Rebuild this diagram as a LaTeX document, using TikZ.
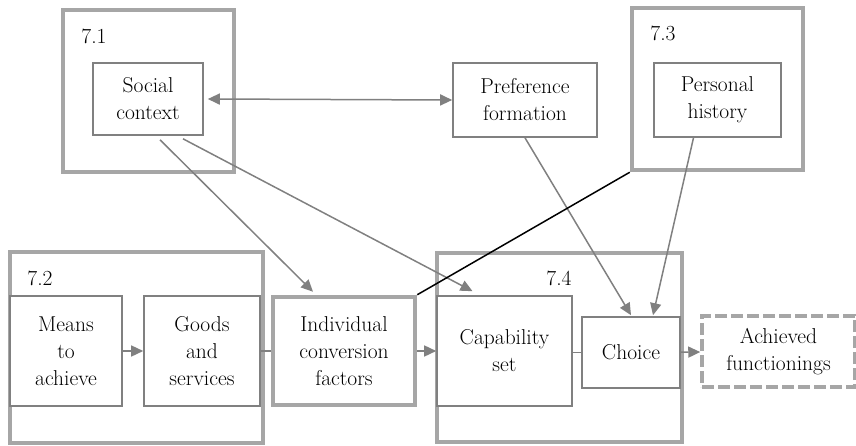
\documentclass[tikz,border=0pt]{standalone}
\usepackage{fontspec}
\usepackage{tikz}
\usetikzlibrary{positioning, arrows.meta, calc}
\definecolor{rahmen}{HTML}{A6A6A6}
\definecolor{kasten}{HTML}{808080}

\begin{document}
\begin{tikzpicture}[
    x=1pt, y=-1pt,
    every node/.style={font=\fontsize{21.5}{27}\selectfont, inner sep=0pt},
    gruppe/.style={draw=rahmen, line width=4.5pt},
    box/.style={draw=kasten, line width=1.6pt, fill=white, align=center},
    pfeil/.style={draw=kasten, line width=1.5pt, -{Triangle[length=12pt, width=11pt]}},
    linie/.style={draw=kasten, line width=1.5pt}
  ]
  \useasboundingbox (0,0) rectangle (856,446);

  % Gruppen
  \node[gruppe, minimum width=171pt, minimum height=162pt] (g71) at (148.5,91) {};
  \node[gruppe, minimum width=171pt, minimum height=162pt] (g73) at (717.5,89) {};
  \node[gruppe, minimum width=253pt, minimum height=191pt] (g72) at (136.5,347.5) {};
  \node[gruppe, minimum width=245pt, minimum height=189pt] (g74) at (559.5,347.5) {};
  \node (l71) at (94,36) {7.1};
  \node (l73) at (663,33) {7.3};
  \node (l72) at (40,278) {7.2};
  \node (l74) at (559,278) {7.4};

  % Kaesten
  \node[box, minimum width=110pt, minimum height=72pt] (soc) at (148,99) {Social\\context};
  \node[box, minimum width=144pt, minimum height=74pt] (pref) at (525,100) {Preference\\formation};
  \node[box, minimum width=127pt, minimum height=74pt] (pers) at (717.5,100) {Personal\\history};
  \node[box, minimum width=112pt, minimum height=110pt] (means) at (66,351) {Means\\to\\achieve};
  \node[box, minimum width=116pt, minimum height=110pt] (goods) at (202,351) {Goods\\and\\services};
  \node[box, draw=rahmen, line width=4.5pt, minimum width=142pt, minimum height=108pt] (indiv) at (344,351) {Individual\\conversion\\factors};
  \node[box, minimum width=135pt, minimum height=110pt] (cap) at (504.5,351) {Capability\\set};
  \node[box, minimum width=98pt, minimum height=71pt] (choice) at (631,352.5) {Choice};
  \node[box, draw=rahmen, line width=3.5pt, dash pattern=on 12pt off 4pt, minimum width=153pt, minimum height=71pt] (ach) at (778.5,351.5) {Achieved\\functionings};

  % Pfeile oben
  \draw[pfeil, {Triangle[length=12pt, width=11pt]}-{Triangle[length=12pt, width=11pt]}] ($(soc.east)+(4,0)$) -- (pref.west);
  \draw[pfeil] ($(soc.south)+(12,4)$) -- ($(indiv.north)+(-31,-3)$);
  \draw[pfeil] ($(soc.south)+(35,3)$) -- ($(cap.north)+(-32,-4)$);
  \draw[pfeil] (pref.south) -- ($(choice.north)+(0,-1)$);
  \draw[pfeil] ($(pers.south)+(-24,0)$) -- ($(choice.north)+(22,-1)$);
  \draw[black, line width=1.5pt] (g73.south west) -- (indiv.north east);

  % Pfeile unten
  \draw[pfeil] (means) -- (goods);
  \draw[linie] (goods) -- (indiv);
  \draw[pfeil] (indiv) -- (cap);
  \draw[linie] (cap.east |- choice) -- (choice);
  \draw[pfeil] (choice) -- (ach);
\end{tikzpicture}
\end{document}
